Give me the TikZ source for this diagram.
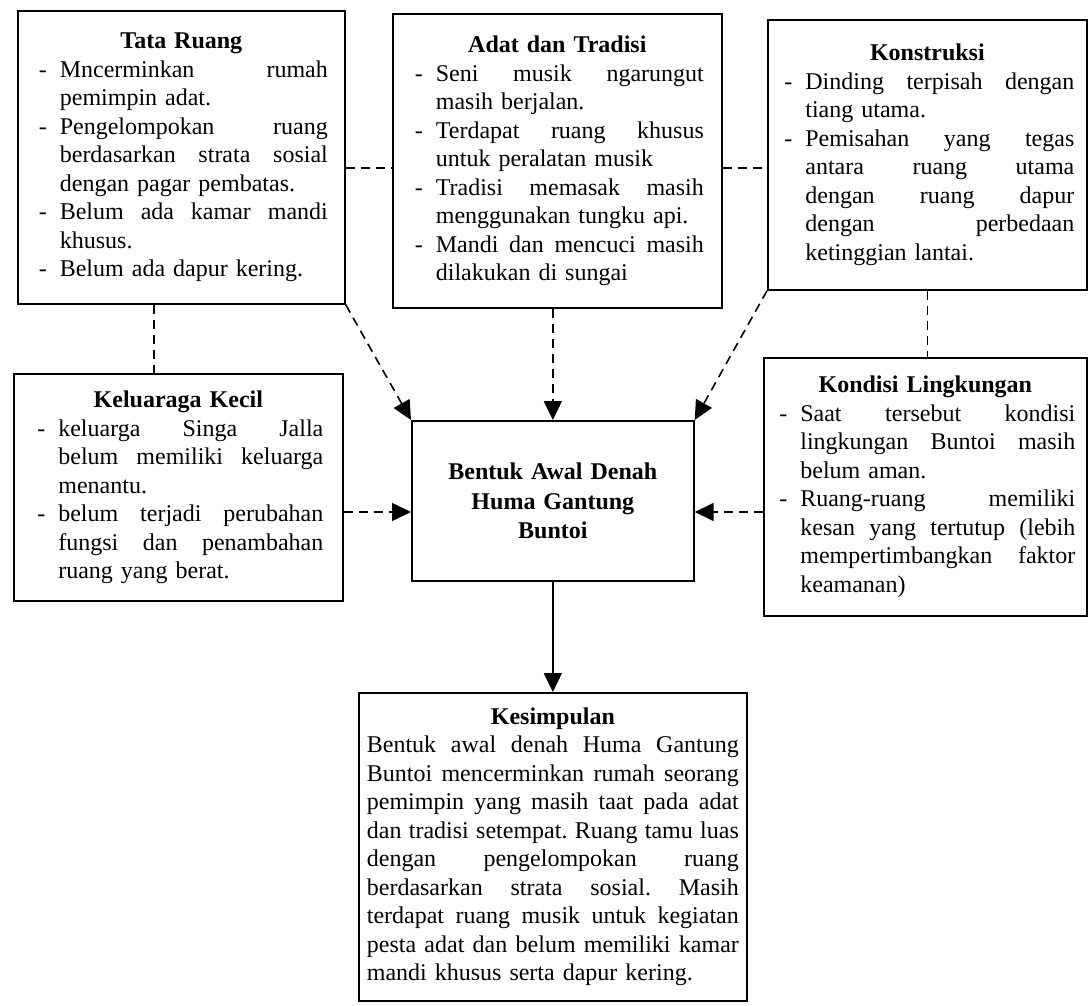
\documentclass[tikz,border=0pt]{standalone}
\usepackage{fontspec}
\setmainfont{Liberation Serif}
\usetikzlibrary{arrows.meta}
\frenchspacing
\newlength{\itemind}\setlength{\itemind}{25pt}
\newlength{\dashoff}\setlength{\dashoff}{4pt}
\newcommand{\spreadline}[2]{\hbox to #1{\spaceskip=\fontdimen2\font plus 1fil\relax\xspaceskip=\spaceskip #2}}
\newcommand{\boxtitle}[1]{\noindent\makebox[\hsize][c]{\bfseries #1}\par}
\newcommand{\jfirst}[1]{\noindent\makebox[\itemind][l]{\hspace*{\dashoff}-}\spreadline{\dimexpr\hsize-\itemind\relax}{#1}\par}
\newcommand{\lfirst}[1]{\noindent\makebox[\itemind][l]{\hspace*{\dashoff}-}\makebox[\dimexpr\hsize-\itemind\relax][l]{#1}\par}
\newcommand{\jcont}[1]{\noindent\hspace*{\itemind}\spreadline{\dimexpr\hsize-\itemind\relax}{#1}\par}
\newcommand{\lcont}[1]{\noindent\hspace*{\itemind}\makebox[\dimexpr\hsize-\itemind\relax][l]{#1}\par}
\newcommand{\jpar}[1]{\noindent\spreadline{\hsize}{#1}\par}
\newcommand{\lpar}[1]{\noindent\makebox[\hsize][l]{#1}\par}
\tikzset{
  panel/.style={draw, line width=1.7pt, anchor=north west, inner xsep=0pt, inner ysep=0pt,
    font=\fontsize{24}{28.5}\selectfont},
  link/.style={line width=1.6pt, dash pattern=on 9pt off 6pt},
  tip/.style={-{Triangle[length=19pt,width=18pt]}}
}
\begin{document}
\begin{tikzpicture}[x=1pt,y=-1pt]
\fill[white] (0,0) rectangle (1088,1006);
\useasboundingbox (0,0) rectangle (1088,1006);

\node[panel, text width=293pt, minimum width=327pt, minimum height=293pt] (tr) at (17,10) {%
\boxtitle{Tata Ruang}
\jfirst{Mncerminkan rumah}
\lcont{pemimpin adat.}
\jfirst{Pengelompokan ruang}
\jcont{berdasarkan strata sosial}
\lcont{dengan pagar pembatas.}
\jfirst{Belum ada kamar mandi}
\lcont{khusus.}
\lfirst{Belum ada dapur kering.}};

\node[panel, text width=293pt, minimum width=329pt, minimum height=294pt] (at) at (392,13) {%
\boxtitle{Adat dan Tradisi}
\jfirst{Seni musik ngarungut}
\lcont{masih berjalan.}
\jfirst{Terdapat ruang khusus}
\lcont{untuk peralatan musik}
\jfirst{Tradisi memasak masih}
\lcont{menggunakan tungku api.}
\jfirst{Mandi dan mencuci masih}
\lcont{dilakukan di sungai}};

\node[panel, text width=294pt, minimum width=319pt, minimum height=270pt] (ko) at (767,19) {%
\boxtitle{Konstruksi}
\jfirst{Dinding terpisah dengan}
\lcont{tiang utama.}
\jfirst{Pemisahan yang tegas}
\jcont{antara ruang utama}
\jcont{dengan ruang dapur}
\jcont{dengan perbedaan}
\lcont{ketinggian lantai.}};

\node[panel, text width=290pt, minimum width=329pt, minimum height=227pt] (kk) at (13,373) {%
\boxtitle{Keluaraga Kecil}
\jfirst{keluarga Singa Jalla}
\jcont{belum memiliki keluarga}
\lcont{menantu.}
\jfirst{belum terjadi perubahan}
\jcont{fungsi dan penambahan}
\lcont{ruang yang berat.}};

\node[panel, text width=260pt, align=center, minimum width=282pt, minimum height=160pt,
  font=\fontsize{24}{29.5}\selectfont\bfseries] (ce) at (411,420)
  {Bentuk Awal Denah\\Huma Gantung\\Buntoi};

\node[panel, text width=300pt, minimum width=323pt, minimum height=258pt] (kl) at (763,357) {%
\boxtitle{Kondisi Lingkungan}
\jfirst{Saat tersebut kondisi}
\jcont{lingkungan Buntoi masih}
\lcont{belum aman.}
\jfirst{Ruang-ruang memiliki}
\jcont{kesan yang tertutup (lebih}
\jcont{mempertimbangkan faktor}
\lcont{keamanan)}};

\node[panel, text width=372pt, minimum width=388pt, minimum height=308pt] (ks) at (358,692) {%
\boxtitle{Kesimpulan}
\jpar{Bentuk awal denah Huma Gantung}
\jpar{Buntoi mencerminkan rumah seorang}
\jpar{pemimpin yang masih taat pada adat}
\jpar{dan tradisi setempat. Ruang tamu luas}
\jpar{dengan pengelompokan ruang}
\jpar{berdasarkan strata sosial. Masih}
\jpar{terdapat ruang musik untuk kegiatan}
\jpar{pesta adat dan belum memiliki kamar}
\lpar{mandi khusus serta dapur kering.}};

\coordinate (hy1) at (0,168);
\coordinate (hy2) at (0,512);
\coordinate (vx1) at (154,0);

\draw[link] (tr.east |- hy1) -- (at.west |- hy1);
\draw[link] (at.east |- hy1) -- (ko.west |- hy1);
\draw[link] (tr.south -| vx1) -- (kk.north -| vx1);
\draw[link] (ko.south) -- (ko.south |- kl.north);
\draw[link,tip] (tr.south east) -- (ce.north west);
\draw[link,tip] (ce.north |- at.south) -- (ce.north);
\draw[link,tip] (ko.south west) -- (ce.north east);
\draw[link,tip] (kk.east |- hy2) -- (ce.west |- hy2);
\draw[link,tip] (kl.west |- hy2) -- (ce.east |- hy2);
\draw[line width=1.6pt,tip] (ce.south) -- (ks.north);
\end{tikzpicture}
\end{document}
